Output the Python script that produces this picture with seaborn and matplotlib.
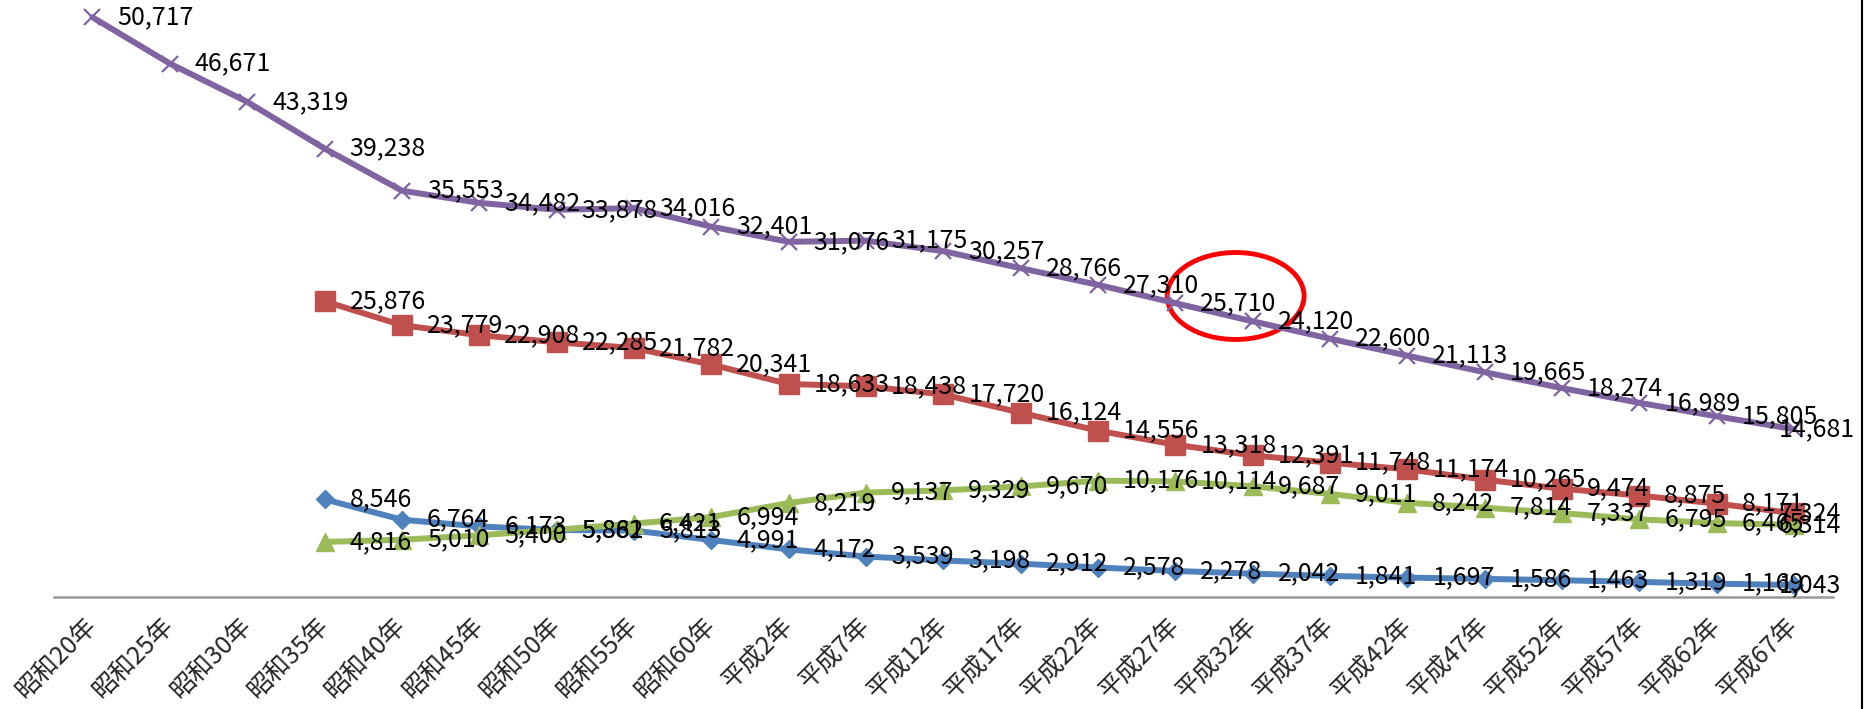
import numpy as np
import pandas as pd
import matplotlib.pyplot as plt
import seaborn as sns
from matplotlib.patches import Ellipse
from matplotlib.lines import Line2D

sns.set_style("white")
plt.rcParams['font.family'] = ['Noto Sans CJK JP', 'DejaVu Sans']

# category labels (x axis)
years = ["昭和20年", "昭和25年", "昭和30年", "昭和35年", "昭和40年", "昭和45年",
         "昭和50年", "昭和55年", "昭和60年", "平成2年", "平成7年", "平成12年",
         "平成17年", "平成22年", "平成27年", "平成32年", "平成37年", "平成42年",
         "平成47年", "平成52年", "平成57年", "平成62年", "平成67年"]

# purple series (all years)
purple_vals = [50717, 46671, 43319, 39238, 35553, 34482, 33878, 34016, 32401,
               31076, 31175, 30257, 28766, 27310, 25710, 24120, 22600, 21113,
               19665, 18274, 16989, 15805, 14681]
# the other three start at 昭和35年
red_vals = [25876, 23779, 22908, 22285, 21782, 20341, 18633, 18438, 17720,
            16124, 14556, 13318, 12391, 11748, 11174, 10265, 9474, 8875, 8171, 7324]
green_vals = [4816, 5010, 5400, 5882, 6421, 6994, 8219, 9137, 9329, 9670,
              10176, 10114, 9687, 9011, 8242, 7814, 7337, 6795, 6465, 6314]
blue_vals = [8546, 6764, 6173, 5861, 5813, 4991, 4172, 3539, 3198, 2912,
             2578, 2278, 2042, 1841, 1697, 1586, 1463, 1319, 1169, 1043]

n = len(years)
start = n - len(red_vals)

series = [
    # values, first index, colour, marker, marker size, edge width
    (blue_vals, start, "#4F81BD", "D", 9.5, 1),
    (red_vals, start, "#C0504D", "s", 14, 1),
    (green_vals, start, "#9BBB59", "^", 13, 1),
    (purple_vals, 0, "#8064A2", "x", 12, 1.6),
]

fig = plt.figure(figsize=(18.73, 7.09), dpi=100)
ax = fig.add_axes([53.8 / 1873, 112 / 709, (1832.7 - 53.8) / 1873, 597 / 709])

for vals, first, color, marker, ms, mew in series:
    df = pd.DataFrame({"x": np.arange(first, first + len(vals)), "y": vals})
    sns.lineplot(data=df, x="x", y="y", ax=ax, color=color, lw=4.3,
                 marker=marker, markersize=ms, markeredgecolor=color,
                 markerfacecolor=color, markeredgewidth=mew, clip_on=False)

for vals, first, color, marker, ms, mew in series:
    for i, v in enumerate(vals):
        idx = first + i
        dx = 25 if idx < n - 1 else -15
        ax.annotate(f"{v:,}", (idx, v), xytext=(dx, 0), textcoords="offset pixels",
                    ha="left", va="center", fontsize=18, color="black",
                    annotation_clip=False)

# red highlight ellipse around 25,710
ax.add_patch(Ellipse((14.78, 26335), width=1.77, height=7610, fill=False,
                     edgecolor="#FF0000", lw=3.5, clip_on=False))

ax.set_xlim(-0.5, n - 0.5)
ax.set_ylim(0, 52230)
ax.set_xticks(range(n))
ax.set_xticklabels(years, rotation=45, ha="right", va="center",
                   rotation_mode="anchor", fontsize=18)
ax.tick_params(axis="x", length=0, pad=18)
ax.set_yticks([])
ax.set_xlabel("")
ax.set_ylabel("")
for side in ["top", "left", "right"]:
    ax.spines[side].set_visible(False)
ax.spines["bottom"].set_color("#999999")
ax.spines["bottom"].set_linewidth(1.8)
ax.patch.set_alpha(0)

# chart frame edge on the right
fig.add_artist(Line2D([1862 / 1873, 1862 / 1873], [0, 1], color="black", lw=1.5))

fig.savefig("out.png", dpi=100)
